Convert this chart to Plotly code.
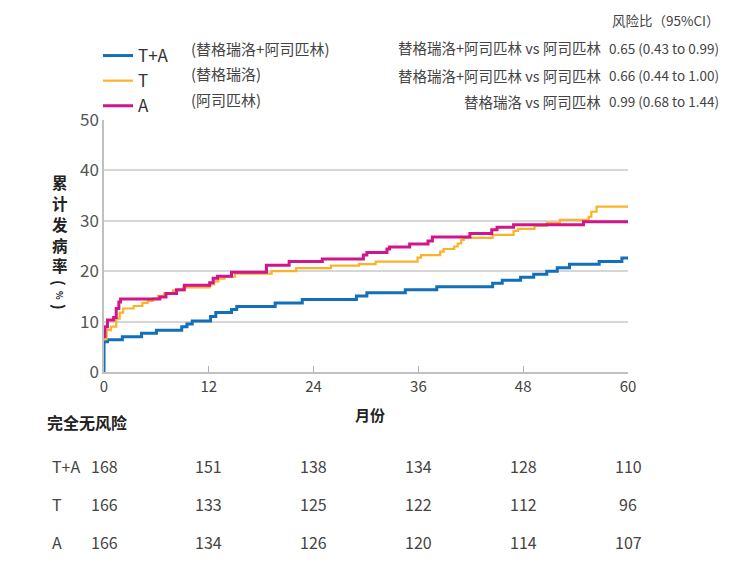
import plotly.graph_objects as go

# ---------------- data ----------------
t_TA = [0, 0, 0.4, 2.1, 4.3, 6.0, 8.9, 9.5, 10.1, 12.2, 12.8, 14.6, 15.2, 19.6, 22.7, 28.9,
        30.1, 34.5, 38.1, 44.5, 45.6, 47.7, 49.2, 50.7, 51.9, 53.3, 56.7, 59.3, 60]
v_TA = [0, 6.0, 6.4, 7.0, 7.7, 8.3, 9.0, 9.5, 10.1, 11.0, 11.8, 12.4, 13.0, 13.7, 14.4, 15.1,
        15.7, 16.3, 16.9, 17.6, 18.2, 18.8, 19.4, 20.0, 20.7, 21.4, 21.9, 22.6, 22.6]

t_T = [0, 0.3, 0.8, 1.4, 1.8, 2.2, 3.4, 4.4, 5.0, 5.6, 6.2, 6.9, 7.9, 9.1, 12.1, 12.6, 13.1,
       13.8, 15.0, 19.2, 22.0, 26.0, 29.2, 31.1, 35.9, 36.3, 38.5, 38.9, 40.1, 40.5, 40.9,
       41.2, 44.5, 46.9, 47.4, 49.3, 50.7, 52.2, 55.5, 55.8, 56.4, 60]
v_T = [6.5, 8.3, 9.0, 10.6, 11.8, 12.6, 13.1, 13.7, 14.1, 14.6, 15.1, 15.6, 16.2, 16.8, 17.4,
       18.0, 18.5, 18.9, 19.5, 20.0, 20.6, 21.1, 21.4, 21.9, 22.7, 23.2, 23.9, 24.4, 24.9,
       25.5, 26.2, 26.6, 27.2, 28.0, 28.4, 29.0, 29.6, 30.2, 30.8, 31.8, 32.8, 32.8]

t_A = [0, 0.1, 0.4, 1.1, 1.4, 1.7, 1.9, 6.4, 7.1, 8.3, 9.2, 12.1, 12.5, 13.0, 14.6, 18.6,
       21.2, 25.0, 29.7, 30.1, 32.4, 32.7, 35.0, 37.1, 37.6, 41.9, 44.4, 45.0, 46.9, 54.9, 60]
v_A = [7.0, 9.0, 10.3, 10.8, 12.6, 13.9, 14.5, 14.9, 15.6, 16.3, 17.2, 17.7, 18.6, 19.0,
       19.8, 21.2, 21.9, 22.4, 23.2, 23.7, 24.4, 24.8, 25.4, 26.0, 26.8, 27.5, 28.2, 28.7,
       29.2, 29.8, 29.8]

series_names = ["T+A", "T", "A"]
series_desc = ["(替格瑞洛+阿司匹林)", "(替格瑞洛)", "(阿司匹林)"]

risk_months = [0, 12, 24, 36, 48, 60]
risk_TA = [168, 151, 138, 134, 128, 110]
risk_T = [166, 133, 125, 122, 112, 96]
risk_A = [166, 134, 126, 120, 114, 107]

hr_labels = ["替格瑞洛+阿司匹林 vs 阿司匹林", "替格瑞洛+阿司匹林 vs 阿司匹林", "替格瑞洛 vs 阿司匹林"]
hr_values = ["0.65 (0.43 to 0.99)", "0.66 (0.44 to 1.00)", "0.99 (0.68 to 1.44)"]

y_title_chars = ["累", "计", "发", "病", "率", "(", "%", ")"]

x_ticks = [0, 12, 24, 36, 48, 60]
y_ticks = [0, 10, 20, 30, 40, 50]

# ---------------- styling ----------------
W, H = 754, 575
L, R, T, B = 104, 628, 120, 372
FONT = "Noto Sans CJK SC, Noto Sans, sans-serif"
C_TA, C_T, C_A = "#1170b9", "#fbb227", "#d2158b"


def px(x):
    return (x - L) / (R - L)


def py(y):
    return (B - y) / (B - T)


fig = go.Figure()
fig.add_trace(go.Scatter(x=t_TA, y=v_TA, mode="lines", line=dict(color=C_TA, width=3, shape="hv"),
                         name=series_names[0]))
fig.add_trace(go.Scatter(x=t_T, y=v_T, mode="lines", line=dict(color=C_T, width=2.2, shape="hv"),
                         name=series_names[1]))
fig.add_trace(go.Scatter(x=t_A, y=v_A, mode="lines", line=dict(color=C_A, width=3, shape="hv"),
                         name=series_names[2]))

ann = []
# legend descriptions
for i, d in enumerate(series_desc):
    ann.append(dict(x=px(189), y=py([49, 73, 99][i]), xref="paper", yref="paper", text=d,
                    showarrow=False, xanchor="left", yanchor="middle",
                    font=dict(size=15, color="#444", family=FONT)))
# hazard ratios
ann.append(dict(x=px(722), y=py(20), xref="paper", yref="paper", text="风险比（95%CI）",
                showarrow=False, xanchor="right", yanchor="middle",
                font=dict(size=13.5, color="#444", family=FONT)))
for i in range(3):
    yy = py([48, 75, 101][i])
    ann.append(dict(x=px(603), y=yy, xref="paper", yref="paper", text=hr_labels[i],
                    showarrow=False, xanchor="right", yanchor="middle",
                    font=dict(size=14.5, color="#444", family=FONT)))
    ann.append(dict(x=px(721), y=yy, xref="paper", yref="paper", text=hr_values[i],
                    showarrow=False, xanchor="right", yanchor="middle",
                    font=dict(size=13.5, color="#444", family=FONT)))
# y-axis title (stacked, one glyph per annotation; brackets and % turned sideways)
ch_y = [182, 203, 224, 245, 265, 283, 295, 307]
ch_size = [15.5, 15.5, 15.5, 15.5, 15.5, 15, 9, 15]
ch_angle = [0, 0, 0, 0, 0, 90, 90, 90]
for c, yy, sz, ang in zip(y_title_chars, ch_y, ch_size, ch_angle):
    ann.append(dict(x=px(60), y=py(yy), xref="paper", yref="paper", text="<b>" + c + "</b>",
                    showarrow=False, xanchor="center", yanchor="middle", textangle=ang,
                    font=dict(size=sz, color="#222", family=FONT)))
# x-axis title
ann.append(dict(x=px(370), y=py(414), xref="paper", yref="paper", text="<b>月份</b>",
                showarrow=False, xanchor="center", yanchor="middle",
                font=dict(size=15, color="#222", family=FONT)))
# risk table
ann.append(dict(x=px(45), y=py(422), xref="paper", yref="paper", text="<b>完全无风险</b>",
                showarrow=False, xanchor="left", yanchor="middle",
                font=dict(size=16, color="#222", family=FONT)))
rows = [risk_TA, risk_T, risk_A]
row_y = [466, 504, 542]
for r in range(3):
    ann.append(dict(x=px(50), y=py(row_y[r]), xref="paper", yref="paper", text=series_names[r],
                    showarrow=False, xanchor="left", yanchor="middle",
                    font=dict(size=16, color="#444", family=FONT)))
    for m, v in zip(risk_months, rows[r]):
        ann.append(dict(x=m, y=py(row_y[r]), xref="x", yref="paper", text=str(v),
                        showarrow=False, xanchor="center", yanchor="middle",
                        font=dict(size=16, color="#444", family=FONT)))

fig.update_layout(
    width=W, height=H,
    margin=dict(l=L, r=W - R, t=T, b=H - B, pad=0),
    paper_bgcolor="white", plot_bgcolor="white",
    font=dict(family=FONT, color="#444"),
    showlegend=True,
    legend=dict(x=px(98), y=py(38), xanchor="left", yanchor="top", traceorder="normal",
                font=dict(size=17, color="#333", family=FONT),
                bgcolor="rgba(0,0,0,0)", tracegroupgap=0),
    xaxis=dict(range=[0, 60], tickvals=x_ticks, ticks="inside", ticklen=6, tickcolor="#b0b0b0",
               showline=True, linecolor="#c0c0c0", linewidth=1.5, showgrid=False, zeroline=False,
               tickfont=dict(size=15, color="#444", family=FONT)),
    yaxis=dict(range=[0, 50], tickvals=y_ticks, ticks="", showline=True, linecolor="#c0c0c0",
               linewidth=1.5, showgrid=True, gridcolor="#d6d6d6", gridwidth=1.5, zeroline=False,
               tickfont=dict(size=17, color="#555", family=FONT)),
    annotations=ann,
)

fig.write_html("out.html")
